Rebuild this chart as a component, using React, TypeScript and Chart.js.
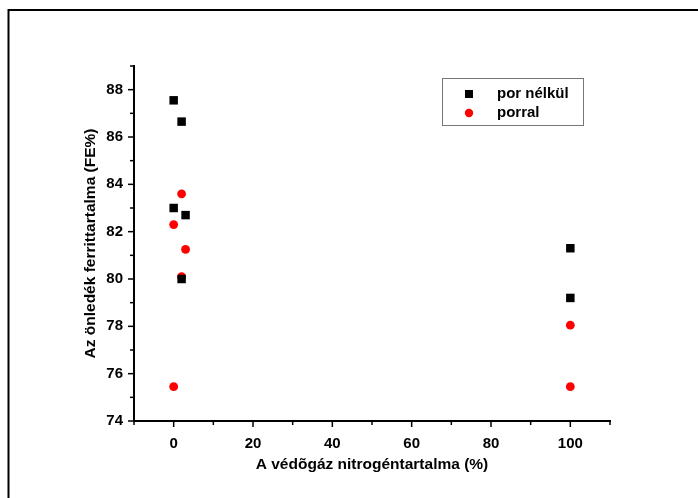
import React, { useEffect, useRef } from "react";
import { Chart, registerables } from "chart.js";

Chart.register(...registerables);

const seriesNames = ["por nélkül", "porral"];
const porNelkulX = [0, 2, 0, 3, 2, 100, 100];
const porNelkulY = [87.55, 86.65, 83.0, 82.7, 80.0, 81.3, 79.2];
const porralX = [2, 0, 3, 2, 0, 100, 100];
const porralY = [83.6, 82.3, 81.25, 80.1, 75.45, 78.05, 75.45];
const xTickLabels = [0, 20, 40, 60, 80, 100];
const yTickLabels = [74, 76, 78, 80, 82, 84, 86, 88];
const xTitle = "A védõgáz nitrogéntartalma (%)";
const yTitle = "Az önledék ferrittartalma (FE%)";

const FONT = "'Liberation Sans', Arial, sans-serif";

const decorPlugin = {
  id: "decor",
  afterDraw(chart: any) {
    const ctx = chart.ctx;
    const area = chart.chartArea;
    ctx.save();
    // outer frame (left + top)
    ctx.strokeStyle = "#000";
    ctx.lineWidth = 2;
    ctx.beginPath();
    ctx.moveTo(8.5, 498);
    ctx.lineTo(8.5, 10);
    ctx.lineTo(698, 10);
    ctx.stroke();

    // ticks
    ctx.lineWidth = 1.5;
    const xs = chart.scales.x;
    const ys = chart.scales.y;
    for (let v = -10; v <= 110; v += 10) {
      const px = xs.getPixelForValue(v);
      const major = xTickLabels.includes(v);
      ctx.beginPath();
      ctx.moveTo(px, area.bottom);
      ctx.lineTo(px, area.bottom + (major ? 6 : 4));
      ctx.stroke();
    }
    for (let v = 74; v <= 89; v += 1) {
      const py = ys.getPixelForValue(v);
      const major = yTickLabels.includes(v);
      ctx.beginPath();
      ctx.moveTo(area.left, py);
      ctx.lineTo(area.left - (major ? 6 : 4), py);
      ctx.stroke();
    }

    // axis titles
    ctx.fillStyle = "#000";
    ctx.font = `bold 15.5px ${FONT}`;
    ctx.textAlign = "center";
    ctx.textBaseline = "middle";
    ctx.fillText(xTitle, (area.left + area.right) / 2, 465);
    ctx.save();
    ctx.translate(91, (area.top + area.bottom) / 2);
    ctx.rotate(-Math.PI / 2);
    ctx.fillText(yTitle, 0, 0);
    ctx.restore();

    // legend
    ctx.strokeStyle = "#777";
    ctx.lineWidth = 1;
    ctx.strokeRect(442.5, 78.5, 141, 47);
    ctx.textAlign = "left";
    ctx.font = `bold 15px ${FONT}`;
    ctx.fillStyle = "#000";
    ctx.fillRect(465, 90, 8, 8);
    ctx.fillText(seriesNames[0], 497, 94);
    ctx.fillStyle = "#ff0000";
    ctx.beginPath();
    ctx.arc(469, 113, 4.2, 0, Math.PI * 2);
    ctx.fill();
    ctx.fillStyle = "#000";
    ctx.fillText(seriesNames[1], 497, 113);
    ctx.restore();
  },
};

export default function App() {
  const ref = useRef<HTMLCanvasElement>(null);
  useEffect(() => {
    if (!ref.current) return;
    const chart = new Chart(ref.current, {
      type: "scatter",
      data: {
        datasets: [
          {
            label: seriesNames[0],
            data: porNelkulX.map((x, i) => ({ x, y: porNelkulY[i] })),
            pointStyle: "rect",
            pointRadius: 6,
            backgroundColor: "#000",
            borderColor: "#000",
            borderWidth: 0,
          },
          {
            label: seriesNames[1],
            data: porralX.map((x, i) => ({ x, y: porralY[i] })),
            pointStyle: "circle",
            pointRadius: 4.4,
            backgroundColor: "#ff0000",
            borderColor: "#ff0000",
            borderWidth: 0,
          },
        ],
      },
      options: {
        responsive: false,
        animation: false,
        devicePixelRatio: 1,
        layout: { padding: { left: 0, top: 66, right: 88, bottom: 0 } },
        plugins: {
          legend: { display: false },
          tooltip: { enabled: false },
        },
        scales: {
          x: {
            type: "linear",
            min: -10,
            max: 110,
            afterFit: (s: any) => {
              s.height = 77;
            },
            grid: { display: false, drawTicks: false },
            border: { display: true, color: "#000", width: 2 },
            ticks: {
              stepSize: 10,
              padding: 14,
              color: "#000",
              font: { family: FONT, size: 15, weight: "bold" },
              autoSkip: false,
              maxRotation: 0,
              callback: (v: any) => (xTickLabels.includes(Number(v)) ? String(v) : ""),
            },
          },
          y: {
            type: "linear",
            min: 74,
            max: 89,
            afterFit: (s: any) => {
              s.width = 134;
            },
            grid: { display: false, drawTicks: false },
            border: { display: true, color: "#000", width: 2 },
            ticks: {
              stepSize: 1,
              padding: 11,
              color: "#000",
              font: { family: FONT, size: 15, weight: "bold" },
              autoSkip: false,
              callback: (v: any) => (yTickLabels.includes(Number(v)) ? String(v) : ""),
            },
          },
        },
      },
      plugins: [decorPlugin],
    } as any);
    return () => chart.destroy();
  }, []);
  return (
    <div style={{ position: "fixed", left: 0, top: 0, width: 698, height: 498, background: "#fff" }}>
      <canvas ref={ref} width={698} height={498} style={{ width: 698, height: 498, display: "block" }} />
    </div>
  );
}
